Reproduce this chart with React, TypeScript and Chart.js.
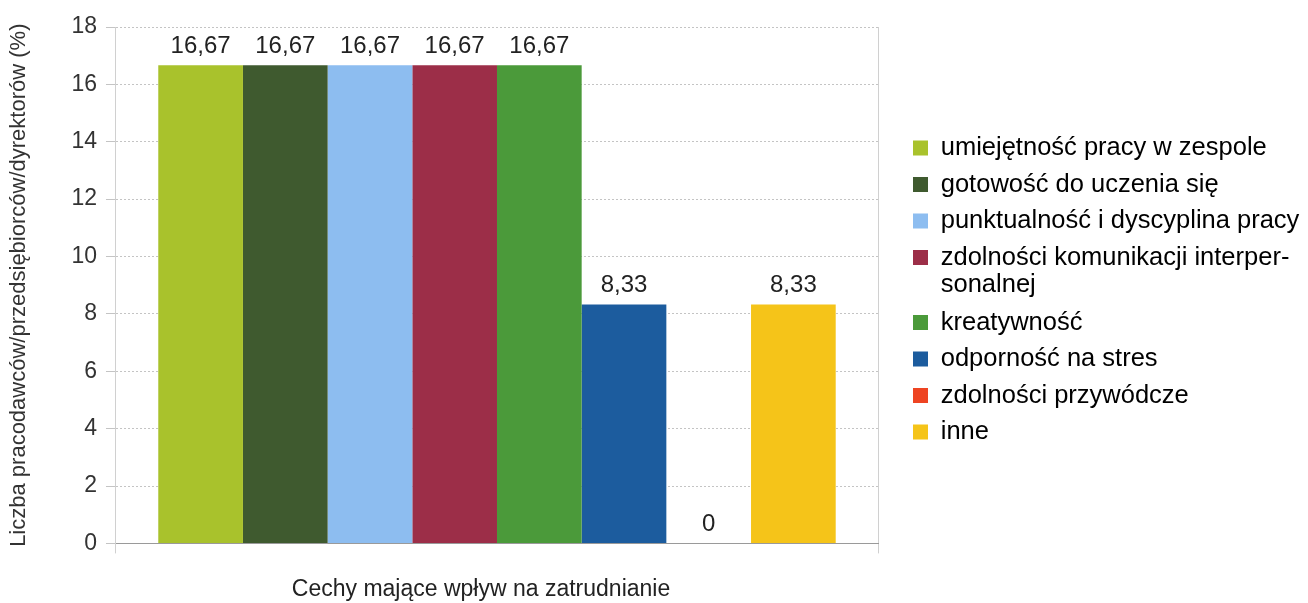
import React, { useEffect, useRef } from "react";
import { Chart, registerables } from "chart.js";

Chart.register(...registerables);

const categories = ["Cechy mające wpływ na zatrudnianie"];
const seriesLabels = [
  "umiejętność pracy w zespole",
  "gotowość do uczenia się",
  "punktualność i dyscyplina pracy",
  "zdolności komunikacji interper-|sonalnej",
  "kreatywność",
  "odporność na stres",
  "zdolności przywódcze",
  "inne",
];
const seriesValues = [16.67, 16.67, 16.67, 16.67, 16.67, 8.33, 0, 8.33];
const seriesColors = [
  "#a9c22c",
  "#3f5a2f",
  "#8dbdf0",
  "#9c2e48",
  "#4b9a3a",
  "#1c5c9e",
  "#ee4422",
  "#f5c419",
];
const yTicks = { min: 0, max: 18, step: 2 };
const yTitle = "Liczba pracodawców/przedsiębiorców/dyrektorów (%)";
const xTitle = "Cechy mające wpływ na zatrudnianie";

const FONT = "'Liberation Sans', Arial, sans-serif";
const LEGEND_W = 430;
const LEGEND_FONT = 25.5;
const LEGEND_PAD = 11;

const fmt = (v: number) => (v === 0 ? "0" : v.toFixed(2).replace(".", ","));

const valueLabels = {
  id: "valueLabels",
  afterDatasetsDraw(chart: any) {
    const ctx = chart.ctx;
    ctx.save();
    ctx.font = `24px ${FONT}`;
    ctx.fillStyle = "#222";
    ctx.textAlign = "center";
    ctx.textBaseline = "alphabetic";
    chart.data.datasets.forEach((ds: any, i: number) => {
      const meta = chart.getDatasetMeta(i);
      const bar = meta.data[0];
      if (!bar) return;
      ctx.fillText(fmt(ds.data[0]), bar.x, bar.y - 12);
    });
    ctx.restore();
  },
};

const legendFix = {
  id: "legendFix",
  afterInit(chart: any) {
    const lg = chart.legend;
    if (!lg) return;
    const orig = lg.fit.bind(lg);
    lg.fit = function () {
      orig();
      this.width = LEGEND_W;
    };
  },
  afterLayout(chart: any) {
    const lg = chart.legend;
    if (!lg) return;
    lg.left = chart.chartArea.right + 35 - LEGEND_PAD;
    lg.right = lg.left + LEGEND_W;
    lg.top = 148 - LEGEND_FONT / 2 - LEGEND_PAD;
    lg.bottom = chart.height;
  },
};

export default function App() {
  const ref = useRef<HTMLCanvasElement | null>(null);
  useEffect(() => {
    if (!ref.current) return;
    const chart = new Chart(ref.current, {
      type: "bar",
      data: {
        labels: categories,
        datasets: seriesLabels.map((l, i) => ({
          label: l,
          data: [seriesValues[i]],
          backgroundColor: seriesColors[i],
          borderWidth: 0,
          categoryPercentage: 0.889,
          barPercentage: 1,
        })),
      },
      options: {
        animation: false,
        responsive: false,
        maintainAspectRatio: false,
        layout: { padding: { left: 0, right: 0, top: 27, bottom: 0 } },
        plugins: {
          tooltip: { enabled: false },
          legend: {
            position: "right",
            align: "start",
            labels: {
              boxWidth: 15,
              boxHeight: 15,
              padding: LEGEND_PAD,
              color: "#222",
              font: { family: FONT, size: LEGEND_FONT, lineHeight: 1.06 },
              generateLabels(chart: any) {
                return chart.data.datasets.map((ds: any, i: number) => {
                  const parts = String(ds.label).split("|");
                  return {
                    text: parts.length > 1 ? parts : parts[0],
                    fillStyle: ds.backgroundColor,
                    strokeStyle: ds.backgroundColor,
                    lineWidth: 0,
                    hidden: false,
                    datasetIndex: i,
                  };
                });
              },
            },
          },
        },
        scales: {
          x: {
            ticks: { display: false },
            grid: { display: true, color: "#d0d0d0", drawTicks: true, tickLength: 10, offset: true },
            border: { display: true, color: "#9a9a9a", width: 1 },
            title: {
              display: true,
              text: xTitle + "     ",
              color: "#222",
              font: { family: FONT, size: 23 },
              padding: { top: 22, bottom: 0 },
            },
          },
          y: {
            min: yTicks.min,
            max: yTicks.max,
            ticks: {
              stepSize: yTicks.step,
              color: "#333",
              font: { family: FONT, size: 23 },
              padding: 9,
            },
            grid: { color: "#c4c4c4", tickLength: 10, drawTicks: true },
            border: { display: true, color: "#d0d0d0", dash: [2, 2] },
            title: {
              display: true,
              text: yTitle,
              color: "#333",
              font: { family: FONT, size: 22 },
              padding: { top: 6, bottom: 30 },
            },
          },
        },
      },
      plugins: [valueLabels, legendFix],
    });
    return () => chart.destroy();
  }, []);
  return (
    <div style={{ position: "absolute", left: 0, top: 0, width: 1308, height: 603, background: "#fff" }}>
      <canvas ref={ref} width={1308} height={603} style={{ width: 1308, height: 603 }} />
    </div>
  );
}
